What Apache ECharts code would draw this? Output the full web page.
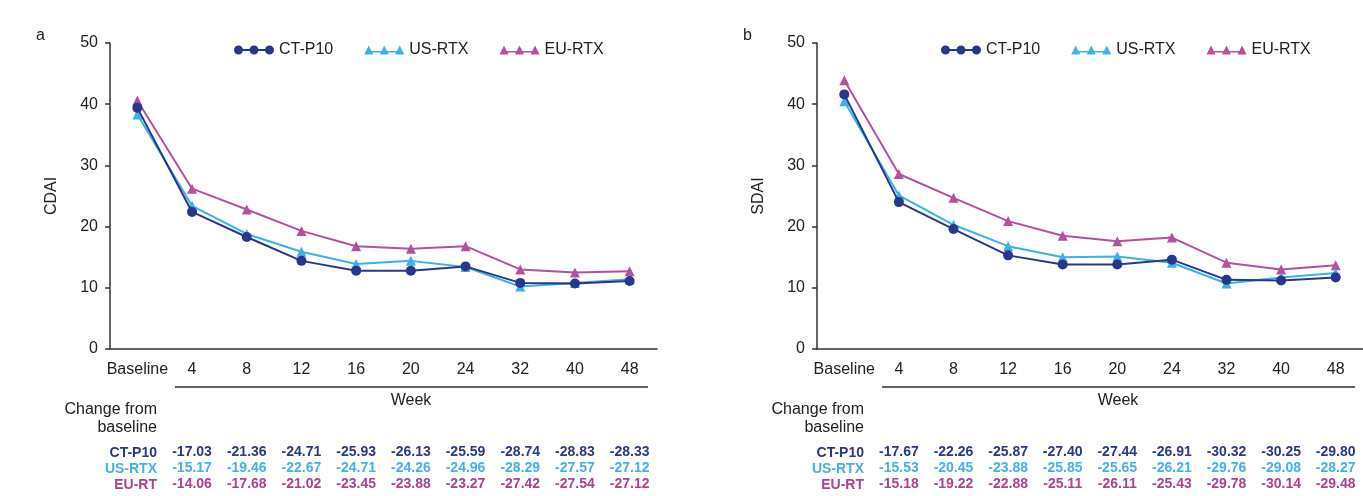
<!DOCTYPE html>
<html>
<head>
<meta charset="utf-8">
<script src="https://cdn.jsdelivr.net/npm/echarts@6/dist/echarts.min.js"></script>
<style>
html,body{margin:0;padding:0;background:#fff;}
#chart{width:1363px;height:496px;}
</style>
</head>
<body>
<div id="chart"></div>
<script>
// ---------- DATA ----------
const categories = ['Baseline', '4', '8', '12', '16', '20', '24', '32', '40', '48'];
const seriesNames = ['CT-P10', 'US-RTX', 'EU-RTX'];
const rowLabels = ['CT-P10', 'US-RTX', 'EU-RT'];

// Panel a: CDAI
const cdaiCTP10 = [39.4, 22.4, 18.3, 14.4, 12.8, 12.8, 13.5, 10.8, 10.7, 11.1];
const cdaiUSRTX = [38.3, 23.4, 18.8, 15.9, 13.9, 14.4, 13.4, 10.2, 10.8, 11.4];
const cdaiEURTX = [40.6, 26.2, 22.8, 19.3, 16.8, 16.4, 16.8, 13.0, 12.5, 12.7];
const cdaiChgCTP10 = [-17.03, -21.36, -24.71, -25.93, -26.13, -25.59, -28.74, -28.83, -28.33];
const cdaiChgUSRTX = [-15.17, -19.46, -22.67, -24.71, -24.26, -24.96, -28.29, -27.57, -27.12];
const cdaiChgEURTX = [-14.06, -17.68, -21.02, -23.45, -23.88, -23.27, -27.42, -27.54, -27.12];

// Panel b: SDAI
const sdaiCTP10 = [41.6, 24.0, 19.6, 15.3, 13.8, 13.8, 14.6, 11.3, 11.2, 11.7];
const sdaiUSRTX = [40.5, 25.1, 20.3, 16.8, 15.0, 15.1, 14.1, 10.7, 11.7, 12.4];
const sdaiEURTX = [43.9, 28.6, 24.7, 20.9, 18.5, 17.6, 18.2, 14.1, 13.0, 13.7];
const sdaiChgCTP10 = [-17.67, -22.26, -25.87, -27.40, -27.44, -26.91, -30.32, -30.25, -29.80];
const sdaiChgUSRTX = [-15.53, -20.45, -23.88, -25.85, -25.65, -26.21, -29.76, -29.08, -28.27];
const sdaiChgEURTX = [-15.18, -19.22, -22.88, -25.11, -26.11, -25.43, -29.78, -30.14, -29.48];

const yTicks = {min: 0, max: 50, interval: 10};

// ---------- STYLE ----------
const FONT = "'Liberation Sans', Arial, Helvetica, sans-serif";
const colors = {'CT-P10': '#27378c', 'US-RTX': '#3cb2e6', 'EU-RTX': '#b5509c'};
const rowColors = ['#2b3a7c', '#45b1e4', '#a8458f'];
const axisColor = '#333';
const textColor = '#222';

const circlePath = 'path://M0,5 A4.5,4.5 0 1 1 9,5 A4.5,4.5 0 1 1 0,5 Z M15.5,5 A4.5,4.5 0 1 1 24.5,5 A4.5,4.5 0 1 1 15.5,5 Z M31,5 A4.5,4.5 0 1 1 40,5 A4.5,4.5 0 1 1 31,5 Z M4,4 L36,4 L36,6 L4,6 Z';
const triPath = 'path://M0,10 L4.5,1 L9,10 Z M15.5,10 L20,1 L24.5,10 Z M31,10 L35.5,1 L40,10 Z M4,6.5 L36,6.5 L36,8 L4,8 Z';
const legendIcons = {'CT-P10': circlePath, 'US-RTX': triPath, 'EU-RTX': triPath};

const panels = [
  {dx: 0, letter: 'a', yName: 'CDAI', lines: [cdaiCTP10, cdaiUSRTX, cdaiEURTX], chg: [cdaiChgCTP10, cdaiChgUSRTX, cdaiChgEURTX]},
  {dx: 707, letter: 'b', yName: 'SDAI', lines: [sdaiCTP10, sdaiUSRTX, sdaiEURTX], chg: [sdaiChgCTP10, sdaiChgUSRTX, sdaiChgEURTX]}
];

const grid = [], xAxis = [], yAxis = [], series = [], legend = [], graphic = [];
const rowOffsets = [96, 112, 128.5];

panels.forEach((p, pi) => {
  grid.push({left: 110 + p.dx, top: 43, width: 547, height: 306, containLabel: false});
  // main category axis
  xAxis.push({
    type: 'category', gridIndex: pi, data: categories, boundaryGap: true,
    axisLine: {lineStyle: {color: axisColor, width: 1.5}},
    axisTick: {alignWithLabel: true, length: 4, lineStyle: {color: axisColor, width: 1.5}, interval: 0},
    axisLabel: {interval: 0, margin: 13, color: textColor, fontSize: 16, fontFamily: FONT}
  });
  // change-from-baseline rows, shown as label-only axes aligned with the categories
  p.chg.forEach((vals, ri) => {
    xAxis.push({
      type: 'category', gridIndex: pi, position: 'bottom', offset: rowOffsets[ri],
      data: [''].concat(vals.map(v => v.toFixed(2))), boundaryGap: true,
      axisLine: {show: false}, axisTick: {show: false}, splitLine: {show: false},
      axisLabel: {interval: 0, margin: 0, color: rowColors[ri], fontSize: 14, fontWeight: 'bold', fontFamily: FONT}
    });
  });
  yAxis.push({
    type: 'value', gridIndex: pi, min: yTicks.min, max: yTicks.max, interval: yTicks.interval,
    name: p.yName, nameLocation: 'middle', nameGap: 50,
    nameTextStyle: {fontSize: 16, color: textColor, fontFamily: FONT},
    axisLine: {show: true, lineStyle: {color: axisColor, width: 1.5}},
    axisTick: {show: true, length: 5, lineStyle: {color: axisColor, width: 1.5}},
    axisLabel: {margin: 12, color: textColor, fontSize: 16, fontFamily: FONT},
    splitLine: {show: false}
  });
  const xi = pi * 4;
  // draw order: EU, US, CT (CT on top)
  [2, 1, 0].forEach(si => {
    const name = seriesNames[si];
    series.push({
      type: 'line', name: name, xAxisIndex: xi, yAxisIndex: pi,
      data: p.lines[si],
      symbol: si === 0 ? 'circle' : 'triangle',
      symbolSize: 10,
      lineStyle: {color: colors[name], width: 2},
      itemStyle: {color: colors[name]},
      animation: false, z: 3 - si
    });
  });
  legend.push({
    left: 229 + p.dx, top: 37, itemWidth: 40, itemHeight: 10, itemGap: 31,
    textStyle: {fontSize: 16, color: textColor, fontFamily: FONT},
    data: seriesNames.map(n => ({name: n, icon: legendIcons[n], itemStyle: {color: colors[n]}})),
    selectedMode: false
  });
  // decorations
  graphic.push(
    {type: 'text', left: 36 + p.dx, top: 28, style: {text: p.letter, fontSize: 16, fill: textColor, font: '16px ' + FONT}},
    {type: 'line', shape: {x1: 175 + p.dx, y1: 387, x2: 648 + p.dx, y2: 387}, style: {stroke: axisColor, lineWidth: 1.5}},
    {type: 'text', x: 411 + p.dx, y: 401, style: {text: 'Week', font: '16px ' + FONT, fill: textColor, align: 'center', verticalAlign: 'middle'}},
    {type: 'text', x: 157 + p.dx, y: 410, style: {text: 'Change from', font: '16px ' + FONT, fill: textColor, align: 'right', verticalAlign: 'middle'}},
    {type: 'text', x: 157 + p.dx, y: 428, style: {text: 'baseline', font: '16px ' + FONT, fill: textColor, align: 'right', verticalAlign: 'middle'}}
  );
  rowLabels.forEach((lab, ri) => {
    graphic.push({type: 'text', x: 157 + p.dx, y: 349 + rowOffsets[ri] + 8,
      style: {text: lab, font: 'bold 14px ' + FONT, fill: rowColors[ri], align: 'right', verticalAlign: 'middle'}});
  });
});

const chart = echarts.init(document.getElementById('chart'), null, {renderer: 'canvas'});
chart.setOption({
  backgroundColor: '#ffffff',
  animation: false,
  textStyle: {fontFamily: FONT},
  grid, xAxis, yAxis, series, legend, graphic
});
</script>
</body>
</html>
